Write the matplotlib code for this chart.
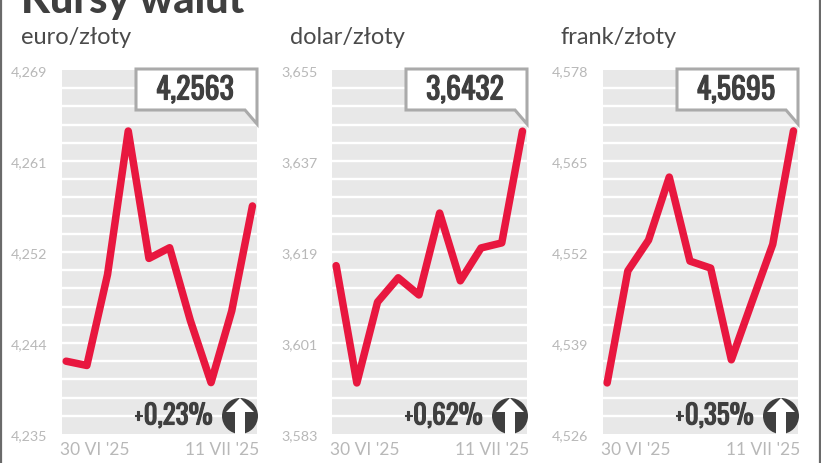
#! /usr/bin/env python
# -*- coding: utf-8 -*-

import matplotlib
matplotlib.use('Agg')
import matplotlib.pyplot as plt
import matplotlib.patheffects as pe
from matplotlib.patches import Polygon, Ellipse

W, H = 821, 464

names = ['euro/złoty', 'dolar/złoty', 'frank/złoty']
euro = [4.2418, 4.2414, 4.2499, 4.2633, 4.2514, 4.2524, 4.2456, 4.2398, 4.2465, 4.2563]
dolar = [3.6163, 3.5931, 3.6091, 3.6139, 3.6105, 3.6267, 3.6133, 3.6198, 3.6208, 3.6429]
frank = [4.5333, 4.5493, 4.5537, 4.5627, 4.5507, 4.5497, 4.5366, 4.5449, 4.5531, 4.5693]
series = [euro, dolar, frank]
limits = [(4.235, 4.269), (3.583, 3.655), (4.526, 4.578)]
tick_labels = [['4,235', '4,244', '4,252', '4,261', '4,269'],
               ['3,583', '3,601', '3,619', '3,637', '3,655'],
               ['4,526', '4,539', '4,552', '4,565', '4,578']]
last_values = ['4,2563', '3,6432', '4,5695']
changes = ['0,23%', '0,62%', '0,35%']
date_first = "30 VI '25"
date_last = "11 VII '25"

# lewe krawedzie paneli w pikselach
lefts = [62, 332, 603]
name_lefts = [21, 290, 560]
PW = 195
TOP = 71
BOTTOM = 435

RED = '#e8173f'
DARK = '#3f3f3f'
LABEL = '#b8b8b8'
NARROW = ['Oswald', 'Saira ExtraCondensed', 'Roboto', 'DejaVu Sans']
# Oswald jest tylko regular, wiec pogrubienie obrysem
BOLD = [pe.withStroke(linewidth=0.8, foreground=DARK)]


def px(x, y):
    # piksele od lewego gornego rogu -> ulamki figury
    return x / W, 1 - y / H


dpi = 100
fig = plt.figure(dpi=dpi, figsize=(W / dpi, H / dpi), facecolor='white')

# ramka po bokach
fig.add_artist(plt.Line2D([1 / W, 1 / W], [0, 1], color='#6a6a6a', lw=1.6))
fig.add_artist(plt.Line2D([820 / W, 820 / W], [0, 1], color='#6a6a6a', lw=1.6))

x0, y0 = px(21, 12.5)
fig.text(x0, y0, 'Kursy walut', family='Lato', weight='black', fontsize=30,
         color=DARK, va='baseline', ha='left')

for i in range(3):
    left = lefts[i]
    ax = fig.add_axes([left / W, 1 - BOTTOM / H, PW / W, (BOTTOM - TOP) / H])
    ax.set_facecolor('#e8e8e8')
    for s in ax.spines.values():
        s.set_visible(False)

    lo, hi = limits[i]
    ax.set_ylim(lo, hi)
    ax.set_xlim(-0.2, 9.22)
    ax.plot(range(10), series[i], color=RED, lw=5.4, solid_capstyle='round',
            solid_joinstyle='round', zorder=3)

    # biale paski tla
    for k in range(1, 20):
        ax.axhline(lo + (hi - lo) * k / 20, color='white', lw=1.7, zorder=1)

    ax.set_xticks([])
    ax.set_yticks([lo + (hi - lo) * k / 4 for k in range(5)])
    ax.set_yticklabels(tick_labels[i], family='Lato', fontsize=10.3, color=LABEL)
    ax.tick_params(axis='y', length=0, pad=10.5)

    ax.text(-0.012, -0.042, date_first, transform=ax.transAxes, family='Lato',
            fontsize=12.5, color=LABEL, ha='left', va='center')
    ax.text(1.012, -0.042, date_last, transform=ax.transAxes, family='Lato',
            fontsize=12.5, color=LABEL, ha='right', va='center')

    sx, sy = px(name_lefts[i], 37)
    fig.text(sx, sy, names[i], family='Lato', fontsize=17, color='#4a4a4a',
             ha='left', va='center')

    # dymek z ostatnim kursem
    r = left + PW
    box = [px(r - 121, 70), px(r, 70), px(r, 125), px(r - 12, 111), px(r - 121, 111)]
    fig.add_artist(Polygon(box, closed=True, transform=fig.transFigure, fc='white',
                           ec='#aaaaaa', lw=2.2, joinstyle='miter', zorder=5))
    tx, ty = px(r - 62, 91)
    fig.text(tx, ty, last_values[i], family=NARROW, fontsize=21.5, color=DARK,
             ha='center', va='center', zorder=6, path_effects=BOLD)

    # zmiana procentowa i strzalka
    tx, ty = px(r - 44, 417)
    fig.text(tx, ty, changes[i], family=NARROW, fontsize=19.5, color=DARK,
             ha='right', va='center', zorder=6, path_effects=BOLD)
    tx, ty = px(r - 123, 418)
    fig.text(tx, ty, '+', family=NARROW, fontsize=15, color=DARK,
             ha='left', va='center', zorder=6, path_effects=BOLD)

    c = r - 17
    cx, cy = px(c, 417)
    fig.add_artist(Ellipse((cx, cy), 36 / W, 36 / H, transform=fig.transFigure,
                           fc=DARK, ec='none', zorder=5))
    arrow = [px(c, 399), px(c + 14, 413), px(c + 5, 413), px(c + 5, 435),
             px(c - 5, 435), px(c - 5, 413), px(c - 14, 413)]
    fig.add_artist(Polygon(arrow, closed=True, transform=fig.transFigure, fc='white',
                           ec='none', zorder=6))

fig.savefig('out.png', dpi=dpi)
